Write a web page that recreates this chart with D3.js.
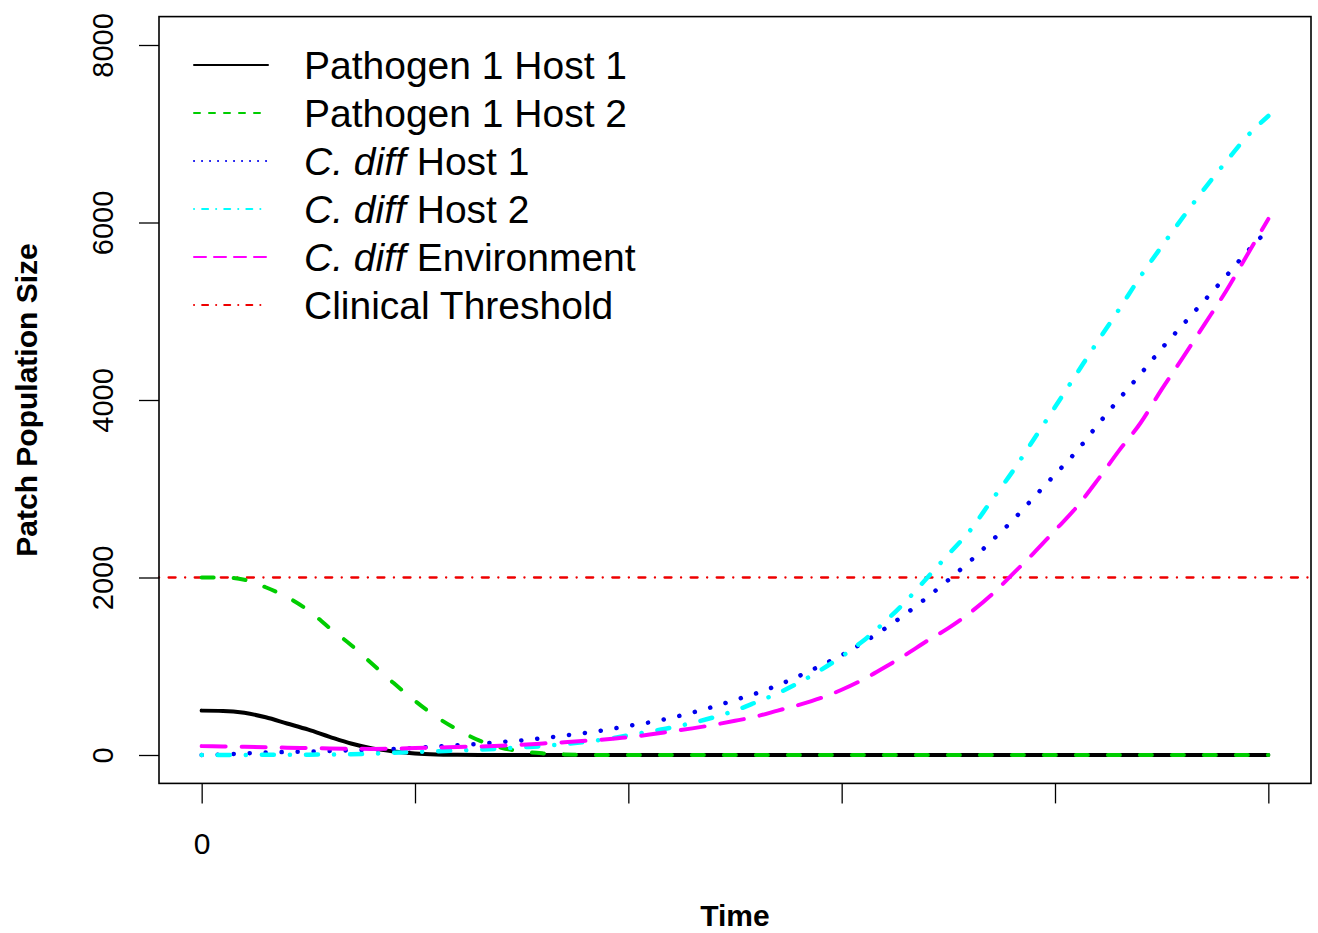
<!DOCTYPE html>
<html>
<head>
<meta charset="utf-8">
<script src="https://cdn.jsdelivr.net/npm/d3@7"></script>
<style>
  body { margin: 0; background: #fff; }
  text { font-family: "Liberation Sans", Arial, Helvetica, sans-serif; }
</style>
</head>
<body>
<div class="chart"></div>
<script>
// time grid (x) and the five series
const time = [0, 2, 4, 6, 8, 10, 12, 14, 16, 18, 20, 22, 24, 26, 28, 30, 32, 34, 36, 38, 40,
  42, 44, 46, 48, 50, 52, 54, 56, 58, 60, 62, 64, 66, 68, 70, 72, 74, 76, 78, 80,
  82, 84, 86, 88, 90, 92, 94, 96, 98, 100];

const path1Host1 = [500, 497, 475, 425, 355, 285, 205, 130, 75, 40, 18, 7, 3, 1, 0, 0, 0, 0, 0, 0, 0,
  0, 0, 0, 0, 0, 0, 0, 0, 0, 0, 0, 0, 0, 0, 0, 0, 0, 0, 0, 0,
  0, 0, 0, 0, 0, 0, 0, 0, 0, 0];
const path1Host2 = [2000, 2000, 1975, 1890, 1780, 1630, 1430, 1240, 1025, 810, 610, 430, 285, 165, 85, 40, 18, 7, 2, 0, 0,
  0, 0, 0, 0, 0, 0, 0, 0, 0, 0, 0, 0, 0, 0, 0, 0, 0, 0, 0, 0,
  0, 0, 0, 0, 0, 0, 0, 0, 0, 0];
const cdiffHost1 = [0, 5, 18, 28, 34, 38, 45, 52, 60, 68, 80, 96, 110, 126, 146, 165, 190, 220, 250, 285, 328,
  368, 418, 478, 545, 620, 695, 785, 890, 1005, 1125, 1265, 1420, 1590, 1775, 1972, 2180, 2405, 2640, 2900, 3160,
  3420, 3720, 4010, 4290, 4580, 4850, 5120, 5390, 5670, 5920];
const cdiffHost2 = [0, 0, 1, 2, 3, 4, 5, 8, 14, 25, 34, 42, 50, 60, 72, 86, 100, 123, 148, 180, 222,
  265, 308, 362, 425, 500, 595, 695, 815, 955, 1110, 1285, 1495, 1730, 1995, 2260, 2524, 2860, 3190, 3555, 3920,
  4290, 4660, 5020, 5390, 5730, 6060, 6380, 6680, 6970, 7200];
const cdiffEnv = [100, 96, 92, 88, 82, 78, 74, 71, 69, 72, 78, 84, 90, 96, 104, 116, 130, 144, 160, 178, 200,
  230, 265, 300, 340, 385, 435, 500, 565, 640, 735, 850, 985, 1130, 1285, 1430, 1600, 1800, 2035, 2275, 2530,
  2790, 3100, 3430, 3738, 4120, 4480, 4850, 5220, 5630, 6040];

const threshold = 2000;

const xTicks = [0, 20, 40, 60, 80, 100];
const yTicks = [0, 2000, 4000, 6000, 8000];

const seriesNames = ["Pathogen 1 Host 1", "Pathogen 1 Host 2", "C. diff Host 1", "C. diff Host 2", "C. diff Environment", "Clinical Threshold"];

const W = 1318, H = 933;
const box = {left: 159, right: 1311, top: 16.6, bottom: 783.4};

const svg = d3.select(".chart")
    .append("svg")
        .attr("width", W)
        .attr("height", H);

// scales (R style: 4% padding beyond data range)
const x = d3.scaleLinear()
    .domain([-4, 104])
    .range([box.left, box.right]);
const y = d3.scaleLinear()
    .domain([-320, 8320])
    .range([box.bottom, box.top]);

// line styles: [colour, width, dasharray]
const styles = [
    ["#000000", 4, null],
    ["#00cd00", 4, "12,20"],
    ["#0000ee", 4.5, "0.1,15.9"],
    ["#00ffff", 4.5, "0.1,16,12,16"],
    ["#ff00ff", 4, "24,16"],
    ["#ee0000", 2.3, "0.1,9.5,7,9.5"]
];
const legendStyles = [
    ["#000000", 2, null],
    ["#00cd00", 2, "6,9"],
    ["#0000ee", 2, "0.1,7.9"],
    ["#00ffff", 2, "0.1,8,6,8"],
    ["#ff00ff", 2, "12,8"],
    ["#ee0000", 2, "0.1,8,6,8"]
];

const series = [path1Host1, path1Host2, cdiffHost1, cdiffHost2, cdiffEnv];

const line = d3.line()
    .x((d, i) => x(time[i]))
    .y(d => y(d))
    .curve(d3.curveMonotoneX);

// threshold line across the whole box
svg.append("line")
    .attr("x1", box.left).attr("x2", box.right)
    .attr("y1", y(threshold)).attr("y2", y(threshold))
    .attr("stroke", styles[5][0])
    .attr("stroke-width", styles[5][1])
    .attr("stroke-linecap", "round")
    .attr("stroke-dasharray", styles[5][2]);

// draw order like the original: pathogen lines, then C. diff lines
series.forEach((s, i) => {
    svg.append("path")
        .datum(s)
        .attr("d", line)
        .attr("fill", "none")
        .attr("stroke", styles[i][0])
        .attr("stroke-width", styles[i][1])
        .attr("stroke-linecap", "round")
        .attr("stroke-linejoin", "round")
        .attr("stroke-dasharray", styles[i][2]);
});

// box
svg.append("rect")
    .attr("x", box.left)
    .attr("y", box.top)
    .attr("width", box.right - box.left)
    .attr("height", box.bottom - box.top)
    .attr("fill", "none")
    .attr("stroke", "#000")
    .attr("stroke-width", 1.6);

// x axis: ticks everywhere, label only at 0
const xAxis = svg.append("g")
    .attr("transform", "translate(0," + box.bottom + ")")
    .call(d3.axisBottom(x)
        .tickValues(xTicks)
        .tickSize(20)
        .tickSizeOuter(0)
        .tickPadding(29)
        .tickFormat(d => d === 0 ? "0" : ""));
xAxis.select(".domain").remove();
xAxis.selectAll("line").attr("stroke", "#000").attr("stroke-width", 1.3);
xAxis.selectAll("text")
    .style("font-size", "30px")
    .style("font-family", "'Liberation Sans', Arial, sans-serif")
    .attr("fill", "#000");

// y axis with rotated labels
const yAxis = svg.append("g")
    .attr("transform", "translate(" + box.left + ",0)")
    .call(d3.axisLeft(y)
        .tickValues(yTicks)
        .tickSize(20)
        .tickSizeOuter(0)
        .tickFormat(d3.format("d")));
yAxis.select(".domain").remove();
yAxis.selectAll("line").attr("stroke", "#000").attr("stroke-width", 1.3);
yAxis.selectAll("text")
    .attr("transform", "rotate(-90)")
    .attr("x", 0)
    .attr("y", -46)
    .attr("dy", 0)
    .style("text-anchor", "middle")
    .style("font-size", "29px")
    .style("font-family", "'Liberation Sans', Arial, sans-serif")
    .attr("fill", "#000");

// axis titles
svg.append("text")
    .attr("x", (box.left + box.right) / 2)
    .attr("y", 926)
    .attr("text-anchor", "middle")
    .style("font-size", "30px")
    .style("font-weight", "bold")
    .text("Time");
svg.append("text")
    .attr("transform", "translate(37," + (box.top + box.bottom) / 2 + ") rotate(-90)")
    .attr("text-anchor", "middle")
    .style("font-size", "30px")
    .style("font-weight", "bold")
    .text("Patch Population Size");

// legend
const legend = svg.append("g");
seriesNames.forEach((name, i) => {
    const ly = 65 + i * 48;
    legend.append("line")
        .attr("x1", 194).attr("x2", 268)
        .attr("y1", ly).attr("y2", ly)
        .attr("stroke", legendStyles[i][0])
        .attr("stroke-width", legendStyles[i][1])
        .attr("stroke-linecap", "round")
        .attr("stroke-dasharray", legendStyles[i][2]);
    const t = legend.append("text")
        .attr("x", 304)
        .attr("y", ly)
        .attr("dy", "0.36em")
        .style("font-size", "39px");
    if (name.startsWith("C. diff")) {
        t.append("tspan").style("font-style", "italic").text("C. diff");
        t.append("tspan").text(name.slice(7));
    } else {
        t.text(name);
    }
});
</script>
</body>
</html>
